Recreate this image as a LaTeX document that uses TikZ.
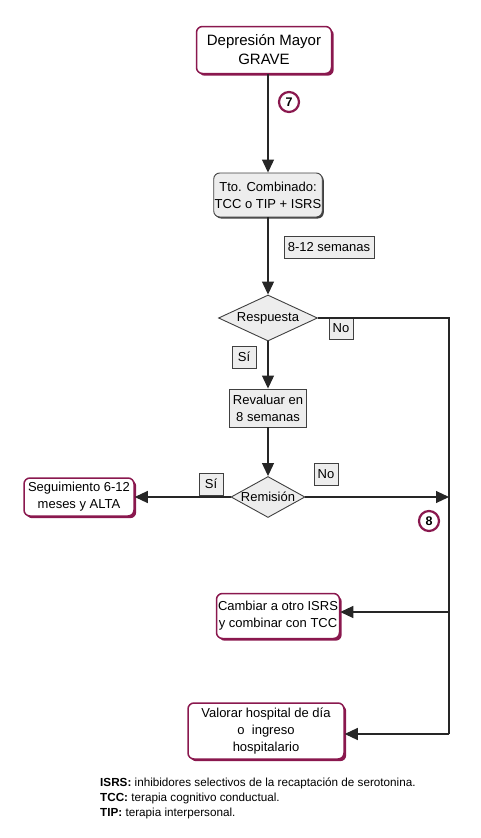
\documentclass[tikz,border=0pt]{standalone}
\usepackage{fontspec}
\setmainfont{Liberation Sans}
\usetikzlibrary{arrows.meta,shapes.geometric,shadows}

\definecolor{figRed}{RGB}{138,24,78}
\colorlet{figFill}{black!7}
\colorlet{figLine}{black!75}

\tikzset{
  txt/.style={font=\fontsize{13}{17}\selectfont, align=center},
  redbox/.style={txt, draw=figRed, line width=1.5pt, fill=white,
        rounded corners=6pt, inner sep=1pt,
        drop shadow={shadow xshift=2.2pt, shadow yshift=-2.2pt,
                     fill=figRed, opacity=1}},
  greybox/.style={txt, draw=figLine, line width=0.9pt, fill=figFill, inner sep=1pt},
  tag/.style={txt, draw=figLine, line width=0.8pt, fill=figFill,
        inner sep=2pt, minimum height=22pt, minimum width=24pt},
  decision/.style={diamond, draw=figLine, line width=0.9pt, fill=figFill,
        inner sep=0pt},
  numcirc/.style={circle, draw=figRed, line width=2.2pt, fill=white,
        inner sep=0pt, minimum size=20pt,
        font=\bfseries\fontsize{12.5}{12.5}\selectfont},
  flow/.style={draw=black!85, line width=1.1pt},
  arr/.style={flow, -{Triangle[length=13pt,width=12pt]}}
}

\begin{document}
\begin{tikzpicture}[x=1pt, y=-1pt]
        \useasboundingbox (0,0) rectangle (480,838);
        \node[redbox, minimum width=135pt, minimum height=47pt,
              font=\fontsize{15}{19}\selectfont] (dep) at (264,50)
              {Depresión Mayor\\GRAVE};
        \node[greybox, rounded corners=6pt, minimum width=98pt, minimum height=44pt,
              drop shadow={shadow xshift=1.5pt, shadow yshift=-1.5pt,
                           fill=figLine, opacity=1}] (tto) at (268,195)
              {Tto. Combinado:\\TCC o TIP + ISRS};
        \node[tag, minimum width=90pt] (sem) at (329,247) {8-12 semanas};
        \node[decision, minimum width=99pt, minimum height=46pt,
              label={center:\fontsize{13}{17}\selectfont Respuesta}] (resp) at (268,318) {};
        \node[greybox, minimum width=77pt, minimum height=38pt] (rev) at (268,408)
              {Revaluar en\\8 semanas};
        \node[decision, minimum width=74pt, minimum height=41pt,
              label={center:\fontsize{13}{17}\selectfont Remisión}] (rem) at (268,497) {};
        \node[redbox, minimum width=110pt, minimum height=38pt] (seg) at (79,497)
              {Seguimiento 6-12\\meses y ALTA};
        \node[redbox, minimum width=123pt, minimum height=45pt] (camb) at (278,616)
              {Cambiar a otro ISRS\\y combinar con TCC};
        \node[redbox, minimum width=156pt, minimum height=56pt] (val) at (266,731)
              {Valorar hospital de día\\o\ \ ingreso\\hospitalario};

        \node[tag] (respNo) at (341,328) {No};
        \node[tag] (respSi) at (244,357) {Sí};
        \node[tag] (remSi) at (211,484) {Sí};
        \node[tag] (remNo) at (326,474) {No};
        \node[numcirc] (n7) at (289,102) {7};
        \node[numcirc] (n8) at (429,521) {8};

        \coordinate (R) at (449,318);
        \coordinate (Rm) at (449,497);
        \coordinate (Rc) at (449,612);
        \coordinate (Rv) at (449,734);

        \draw[arr] (tto.north |- dep.south) -- (tto.north);
        \draw[arr] (tto.south) -- (resp.north);
        \draw[arr] (resp.south) -- (rev.north);
        \draw[arr] (rev.south) -- (rem.north);
        \draw[arr] (rem.west) -- (rem.west -| seg.east);
        \draw[arr] (rem.east) -- (Rm);
        \draw[flow] (resp.east) -- (R) -- (Rv);
        \draw[arr] (Rc) -- (Rc -| camb.east);
        \draw[arr] (Rv) -- (Rv -| val.east);

        \node[anchor=north west, align=left, inner sep=0pt,
              font=\fontsize{11.7}{15}\selectfont] (leyenda) at (100,778)
              {\textbf{ISRS:} inhibidores selectivos de la recaptación de serotonina.\\
               \textbf{TCC:} terapia cognitivo conductual.\\
               \textbf{TIP:} terapia interpersonal.};
      \end{tikzpicture}
\end{document}
